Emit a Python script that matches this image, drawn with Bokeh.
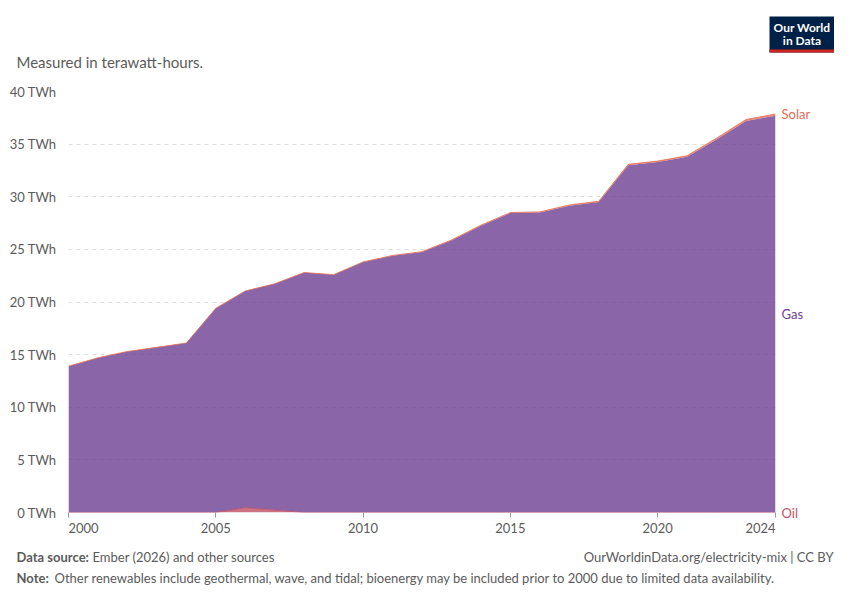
from bokeh.plotting import figure
from bokeh.layouts import column, row
from bokeh.models import ColumnDataSource, Label, BoxAnnotation, FixedTicker, Range1d
from bokeh.transform import stack
from bokeh.embed import file_html
from bokeh.resources import INLINE

# electricity generation by source, TWh
years = list(range(2000, 2025))
oil = [0, 0, 0, 0, 0, 0, 0.45, 0.23, 0, 0, 0, 0, 0, 0, 0, 0, 0, 0, 0, 0, 0, 0, 0, 0, 0]
gas = [13.9, 14.7, 15.3, 15.7, 16.1, 19.4, 20.6, 21.5, 22.8, 22.6, 23.8, 24.4, 24.75,
       25.85, 27.25, 28.45, 28.5, 29.15, 29.5, 33.0, 33.3, 33.8, 35.45, 37.2, 37.7]
solar = [0, 0, 0, 0, 0, 0, 0, 0, 0, 0, 0.01, 0.02, 0.03, 0.04, 0.05, 0.05, 0.06, 0.07,
         0.07, 0.08, 0.09, 0.1, 0.12, 0.14, 0.16]
y_ticks = [0, 5, 10, 15, 20, 25, 30, 35, 40]
x_ticks = [2000, 2005, 2010, 2015, 2020, 2024]

OIL = "#C15065"
GAS = "#6D3E91"
SOLAR = "#E36B53"
GREY = "#5b5b5b"
FONT = "Lato"

W = 834
HEAD_H, MAIN_H, FOOT_H = 75, 465, 48


def blank(height):
    f = figure(width=W, height=height, output_backend="svg", toolbar_location=None,
               x_range=Range1d(0, W), y_range=Range1d(height, 0), min_border=0)
    f.axis.visible = False
    f.grid.visible = False
    f.outline_line_color = None
    return f


def txt(f, text, x, y, size="13px", color=GREY, align="left", style="normal",
        place="center", **kw):
    f.add_layout(Label(x=x, y=y, text=text, text_font=FONT, text_font_size=size,
                       text_color=color, text_align=align, text_baseline="middle",
                       text_font_style=style, **kw), place)


# header: subtitle and logo (pixel coordinates, y down)
head = blank(HEAD_H)
txt(head, "Measured in terawatt-hours.", 16, 61, size="15px")
head.add_layout(BoxAnnotation(left=769, right=834, top=16, bottom=52,
                              fill_color="#002147", fill_alpha=1, line_color=None))
head.add_layout(BoxAnnotation(left=769, right=834, top=49, bottom=52,
                              fill_color="#CE261E", fill_alpha=1, line_color=None))
txt(head, "Our World", 801.5, 27, size="12px", color="white", align="center", style="bold")
txt(head, "in Data", 801.5, 40, size="12px", color="white", align="center", style="bold")

# main chart; the series labels in the right panel take up its width
src = ColumnDataSource(dict(year=years, oil=oil, gas=gas, solar=solar))
p = figure(width=842, height=MAIN_H, output_backend="svg", toolbar_location=None,
           x_range=Range1d(2000, 2024), y_range=Range1d(0, 40),
           min_border_left=68, min_border_right=0, min_border_top=16,
           min_border_bottom=28)
p.outline_line_color = None

p.varea_stack(stackers=["oil", "gas", "solar"], x="year", source=src,
              color=[OIL, GAS, SOLAR], fill_alpha=0.8)
p.line(x="year", y=stack("oil"), source=src, color=OIL, line_width=1, alpha=0.8)
p.line(x="year", y=stack("oil", "gas", "solar"), source=src, color=SOLAR,
       line_width=1, alpha=0.8)

p.xgrid.grid_line_color = None
p.ygrid.grid_line_color = "#dddddd"
p.ygrid.grid_line_dash = "4 4"
p.ygrid.ticker = FixedTicker(ticks=y_ticks[1:])

p.yaxis.ticker = FixedTicker(ticks=y_ticks)
p.yaxis.major_label_overrides = {t: f"{t} TWh" for t in y_ticks}
p.yaxis.axis_line_color = None
p.yaxis.major_tick_line_color = None
p.yaxis.minor_tick_line_color = None
p.yaxis.major_label_standoff = 6

# first and last year labels sit flush with the frame edges
pad = "\u00a0" * 9
p.xaxis.ticker = FixedTicker(ticks=x_ticks)
p.xaxis.major_label_overrides = {x_ticks[0]: pad + str(x_ticks[0]),
                                 x_ticks[-1]: str(x_ticks[-1]) + pad}
p.xaxis.axis_line_color = None
p.xaxis.major_tick_line_color = "#999999"
p.xaxis.major_tick_in = 0
p.xaxis.major_tick_out = 5
p.xaxis.minor_tick_line_color = None
p.xaxis.major_label_standoff = 2

for ax in (p.xaxis, p.yaxis):
    ax.major_label_text_font = FONT
    ax.major_label_text_font_size = "13px"
    ax.major_label_text_color = GREY

# series labels beside the last year (in the right panel, so they are not clipped)
n = len(years) - 1
txt(p, "Solar", years[n], oil[n] + gas[n] + solar[n], color=SOLAR, place="right", x_offset=6)
txt(p, "Gas", years[n], oil[n] + gas[n] / 2, color=GAS, place="right", x_offset=6)
txt(p, "Oil", years[n], oil[n], color=OIL, place="right", x_offset=6)

# footer
foot = blank(FOOT_H)
txt(foot, "Data source:", 16, 16, style="bold")
txt(foot, "Ember (2026) and other sources", 92, 16)
txt(foot, "OurWorldinData.org/electricity-mix | CC BY", 833, 16, align="right")
txt(foot, "Note:", 16, 37.5, style="bold")
txt(foot, "Other renewables include geothermal, wave, and tidal; bioenergy may be included "
    "prior to 2000 due to limited data availability.", 54, 37.5)

layout = column(head, row(p), foot)
open("out.html", "w").write(file_html(layout, INLINE))
